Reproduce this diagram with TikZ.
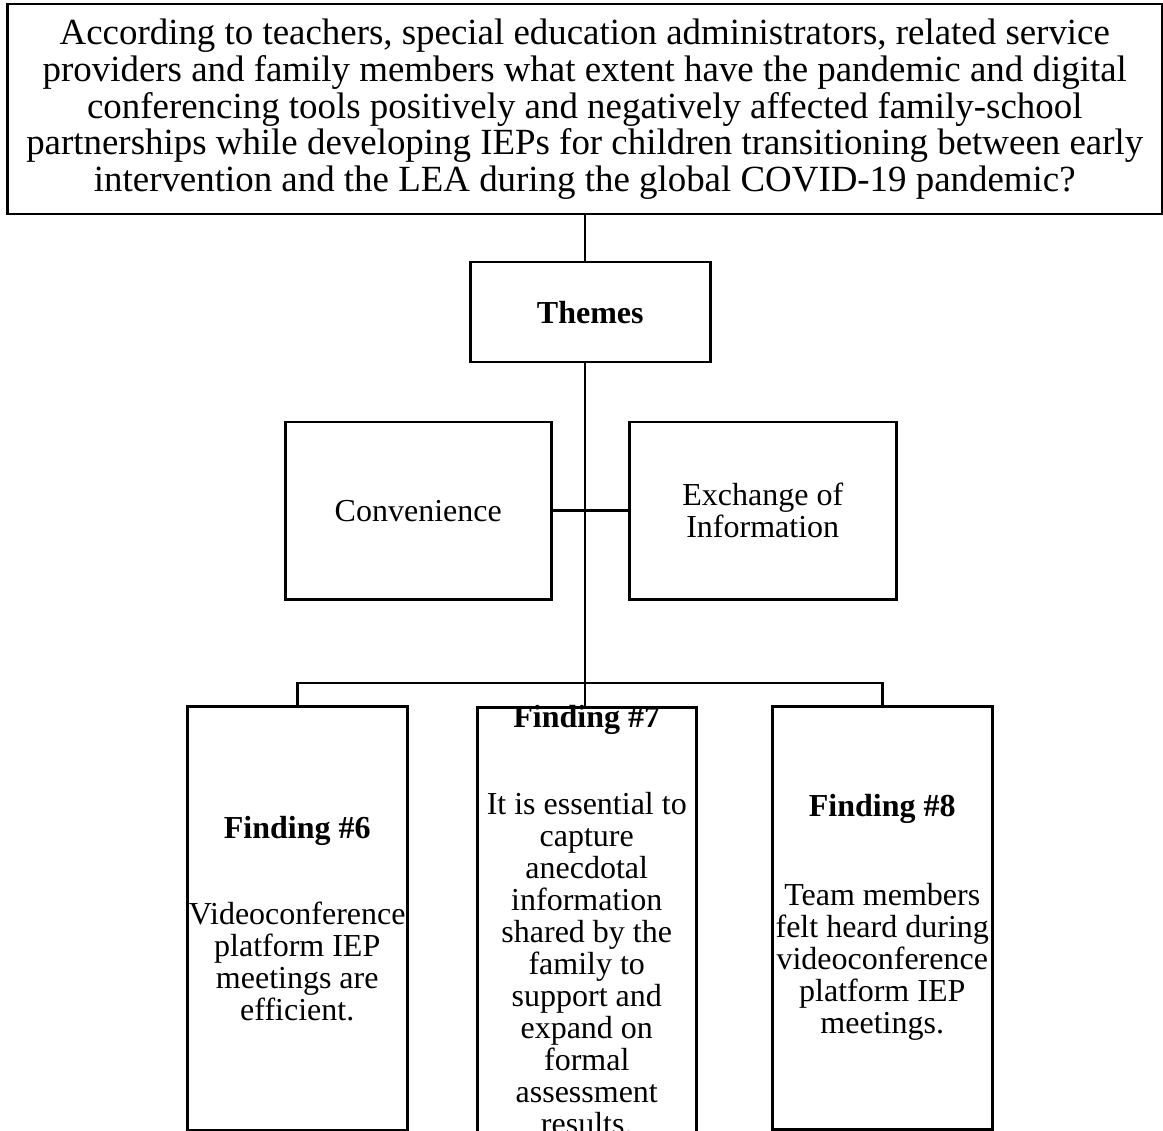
\documentclass[tikz,border=0pt]{standalone}
\usepackage{fontspec}
\setmainfont{Liberation Serif}
\begin{document}
\begin{tikzpicture}[x=1pt,y=-1pt,
  box/.style={draw, line width=2.5pt, inner sep=0pt, anchor=north west, align=center},
  body/.style={font=\fontsize{32}{32}\selectfont},
  link/.style={line width=2.5pt},
]
\useasboundingbox (0,0) rectangle (1163,1131);

% research question
\node[box, minimum width=1155pt, minimum height=210pt,
      font=\fontsize{36.9}{36.8}\selectfont] (top) at (6,3)
  {According to teachers, special education administrators, related service\\
   providers and family members what extent have the pandemic and digital\\
   conferencing tools positively and negatively affected family-school\\
   partnerships while developing IEPs for children transitioning between early\\
   intervention and the LEA during the global COVID-19 pandemic?};

% themes
\node[box, body, minimum width=240pt, minimum height=100pt] (themes) at (469,261)
  {\textbf{Themes}};
\node[box, body, minimum width=266pt, minimum height=177pt] (conv) at (284,421)
  {Convenience};
\node[box, body, minimum width=267pt, minimum height=177pt] (exch) at (628,421)
  {Exchange of\\Information};

% findings (frames first, text laid over them)
\node[box, minimum width=220pt, minimum height=424pt] (f6) at (186,705) {};
\node[box, minimum width=219pt, minimum height=425pt] (f7) at (476,706) {};
\node[box, minimum width=220pt, minimum height=423pt] (f8) at (771,705) {};

\node[body, align=center, inner sep=0pt] (t6) at (f6.center)
  {\textbf{Finding \#6}\\[54pt]
   Videoconference\\platform IEP\\meetings are\\efficient.};
\node[body, align=center, inner sep=0pt] (t7) at (f7.center)
  {\textbf{Finding \#7}\\[55pt]
   It is essential to\\capture\\anecdotal\\information\\shared by the\\family to\\
   support and\\expand on\\formal\\assessment\\results.};
\node[body, align=center, inner sep=0pt] (t8) at (f8.center)
  {\textbf{Finding \#8}\\[57pt]
   Team members\\felt heard during\\videoconference\\platform IEP\\meetings.};

% connectors
\coordinate (bar) at (585,683);
\draw[link] (top.south -| bar) -- (themes.north -| bar);
\draw[link] (themes.south -| bar) -- (bar);
\draw[link] (conv.east) -- (exch.west);
\draw[link] (f6.north) |- (bar) -| (f8.north);
\draw[link] (bar) -- (f7.north -| bar);
\end{tikzpicture}
\end{document}
